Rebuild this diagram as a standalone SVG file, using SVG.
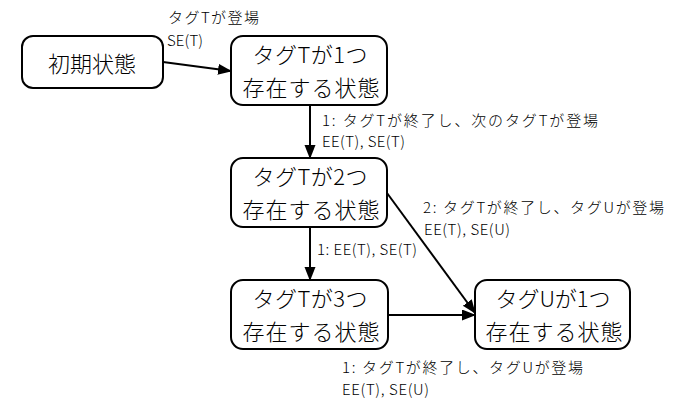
<svg xmlns="http://www.w3.org/2000/svg" width="673" height="398" viewBox="0 0 673 398">
<defs>
<style>
.box{fill:#fff;stroke:#000;stroke-width:2}
.nt{font-family:"Noto Sans CJK JP","Noto Sans",sans-serif;font-size:22px;font-weight:300;fill:#000;text-anchor:middle}
.lb{font-family:"Noto Sans CJK JP","Noto Sans",sans-serif;font-size:15px;font-weight:300;fill:#000}
.cn{stroke:#000;stroke-width:2;fill:none;marker-end:url(#ah)}
</style>
<marker id="ah" markerUnits="userSpaceOnUse" markerWidth="14" markerHeight="12" refX="13" refY="5.5" orient="auto">
<path d="M0,0 L14,5.5 L0,11 z" fill="#000"/>
</marker>
</defs>
<rect width="673" height="398" fill="#fff"/>
<g id="connectors">
<line class="cn" x1="163" y1="62" x2="231" y2="71"/>
<line class="cn" x1="310" y1="105" x2="310" y2="158"/>
<line class="cn" x1="310" y1="227" x2="310" y2="280"/>
<line class="cn" x1="387" y1="193" x2="475" y2="313"/>
<line class="cn" x1="388" y1="315" x2="475" y2="315"/>
</g>
<g id="labels">
<text class="lb" x="168" y="23" textLength="91" lengthAdjust="spacing">タグTが登場</text>
<text class="lb" x="167" y="46" textLength="36" lengthAdjust="spacing">SE(T)</text>
<text class="lb" x="322" y="126" textLength="276" lengthAdjust="spacing">1: タグTが終了し、次のタグTが登場</text>
<text class="lb" x="322" y="147" textLength="83" lengthAdjust="spacing">EE(T), SE(T)</text>
<text class="lb" x="423" y="213" textLength="241" lengthAdjust="spacing">2: タグTが終了し、タグUが登場</text>
<text class="lb" x="424" y="235" textLength="86" lengthAdjust="spacing">EE(T), SE(U)</text>
<text class="lb" x="317" y="255" textLength="100" lengthAdjust="spacing">1: EE(T), SE(T)</text>
<text class="lb" x="342" y="373" textLength="241" lengthAdjust="spacing">1: タグTが終了し、タグUが登場</text>
<text class="lb" x="342" y="395" textLength="87" lengthAdjust="spacing">EE(T), SE(U)</text>
</g>
<g id="n0">
<rect class="box" x="22" y="36" width="141" height="52" rx="11"/>
<text class="nt" x="92" y="72">初期状態</text>
</g>
<g id="n1">
<rect class="box" x="231" y="36" width="156" height="69" rx="12"/>
<text class="nt" x="310" y="63" textLength="115" lengthAdjust="spacing">タグTが1つ</text>
<text class="nt" x="311" y="96" textLength="137" lengthAdjust="spacing">存在する状態</text>
</g>
<g id="n2">
<rect class="box" x="231" y="158" width="156" height="69" rx="12"/>
<text class="nt" x="310" y="185" textLength="115" lengthAdjust="spacing">タグTが2つ</text>
<text class="nt" x="311" y="218" textLength="137" lengthAdjust="spacing">存在する状態</text>
</g>
<g id="n3">
<rect class="box" x="231" y="280" width="157" height="69" rx="12"/>
<text class="nt" x="310" y="307" textLength="115" lengthAdjust="spacing">タグTが3つ</text>
<text class="nt" x="311" y="340" textLength="137" lengthAdjust="spacing">存在する状態</text>
</g>
<g id="n4">
<rect class="box" x="475" y="280" width="155" height="69" rx="12"/>
<text class="nt" x="553" y="307" textLength="115" lengthAdjust="spacing">タグUが1つ</text>
<text class="nt" x="554" y="340" textLength="137" lengthAdjust="spacing">存在する状態</text>
</g>
</svg>
